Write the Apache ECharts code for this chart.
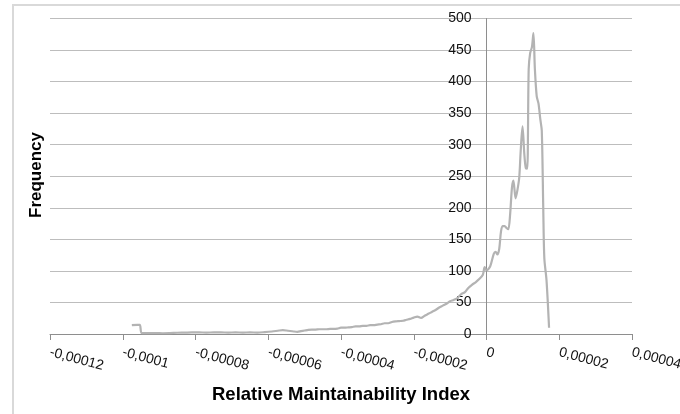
<!DOCTYPE html>
<html>
<head>
<meta charset="utf-8">
<script src="https://cdn.jsdelivr.net/npm/echarts@6/dist/echarts.min.js"></script>
<style>
html,body{margin:0;padding:0;background:#fff;}
#c{width:680px;height:414px;}
</style>
</head>
<body>
<div id="c"></div>
<script>
// Relative Maintainability Index, in units of 1e-6
const relIndexMicro = [
  -97.5,-96,-95.3,-94.8,-93,-91,-89,-87,-85,-83,
  -81,-79,-77,-75,-73,-71,-69,-67,-65,-63,
  -61,-59,-57,-56,-55,-53,-52,-51,-50,-49,
  -48,-47,-46,-45,-44,-43,-42,-41,-40,-39,
  -38,-37,-36,-35,-34,-33,-32,-31,-30,-29,
  -28,-27,-26,-25,-24,-23,-22,-21,-20,-19,
  -18,-17,-16,-15,-14,-13,-12,-11,-10,-9,
  -8,-7,-6,-5,-4,-3,-2,-1,-0.5,0,
  1,2,2.5,3,3.5,4,4.5,5,5.5,6,
  6.5,7,7.4,8,8.5,9,9.4,9.9,10.4,10.8,
  11.2,11.6,12,12.5,12.9,13.3,13.8,14.3,14.8,15.2,
  15.6,15.9,16.5,17.2
];
const frequency = [
  14,14.5,14.5,1.5,1.5,1.5,1.2,1.5,2,2.2,
  2.5,2.5,2.3,2.5,2.5,2.3,2.5,2.2,2.5,2.3,
  3,4,5.5,6,5.5,4,3.5,4.5,5.5,6.5,
  7,7,7.5,7.5,7.5,8,8,8.5,10,10,
  10.5,11,12,12,13,13,14,14,15,15.5,
  17,17,19,20,20.5,21,22.5,24,26,27.5,
  25.5,29,32,35,38,42,45,48,52,54,
  57,63,66,73,78,82,87,94,106,101,
  107,127,130,126,135,163,171,171,168,166,
  190,232,243,215,228,248,290,329,285,263,
  262,420,445,455,477,420,377,365,340,322,
  200,120,85,10
];
const xTickMin = -120, xTickMax = 40, xTickStep = 20;
const yTickMin = 0, yTickMax = 500, yTickStep = 50;

const seriesData = relIndexMicro.map((x, i) => [x, frequency[i]]);

function fmtX(v) {
  let s = (v / 1e6).toFixed(5).replace(/0+$/, '').replace(/\.$/, '');
  if (s === '-0') s = '0';
  return s.replace('.', ',');
}

const W = 680, gridLeft = 50, gridRight = 48;
const plotW = W - gridLeft - gridRight;
// the vertical axis crosses the horizontal one at x = 0
const yAxisOffset = -((0 - xTickMin) / (xTickMax - xTickMin)) * plotW;

const chart = echarts.init(document.getElementById('c'), null, {renderer: 'canvas'});
chart.setOption({
  animation: false,
  backgroundColor: '#ffffff',
  textStyle: {fontFamily: 'Liberation Sans, Arial, sans-serif'},
  grid: {left: gridLeft, right: gridRight, top: 18.5, bottom: 80, containLabel: false, outerBoundsMode: 'none'},
  graphic: [
    {type: 'rect', shape: {x: 13, y: 5, width: 720, height: 460},
     style: {fill: 'none', stroke: '#d9d9d9', lineWidth: 2}, silent: true, z: -1},
    {type: 'text', x: 36, y: 175, rotation: Math.PI / 2,
     style: {text: 'Frequency', font: 'bold 17px "Liberation Sans", Arial, sans-serif',
             fill: '#000', align: 'center', verticalAlign: 'middle'}}
  ],
  xAxis: {
    type: 'value', min: xTickMin, max: xTickMax, interval: xTickStep,
    name: 'Relative Maintainability Index', nameLocation: 'middle', nameGap: 51,
    nameTextStyle: {fontWeight: 'bold', fontSize: 18.5, color: '#000', fontFamily: 'Liberation Sans, Arial, sans-serif'},
    axisLine: {show: true, onZero: false, lineStyle: {color: '#8e8e8e', width: 1}},
    axisTick: {show: true, length: 6, lineStyle: {color: '#8e8e8e'}},
    splitLine: {show: false},
    axisLabel: {rotate: -15, margin: 18, fontSize: 14, color: '#111', formatter: fmtX,
                showMinLabel: true, showMaxLabel: true, hideOverlap: false}
  },
  yAxis: {
    type: 'value', min: yTickMin, max: yTickMax, interval: yTickStep,
    position: 'left', offset: yAxisOffset,
    axisLine: {show: true, onZero: false, lineStyle: {color: '#8e8e8e', width: 1}},
    axisTick: {show: false},
    splitLine: {show: true, lineStyle: {color: '#bdbdbd', width: 1}},
    axisLabel: {margin: 15, fontSize: 14, color: '#111'}
  },
  series: [{
    type: 'line', data: seriesData, showSymbol: false, smooth: 0.3,
    lineStyle: {color: '#b3b3b3', width: 2.2},
    itemStyle: {color: '#b3b3b3'}
  }]
});
</script>
</body>
</html>
